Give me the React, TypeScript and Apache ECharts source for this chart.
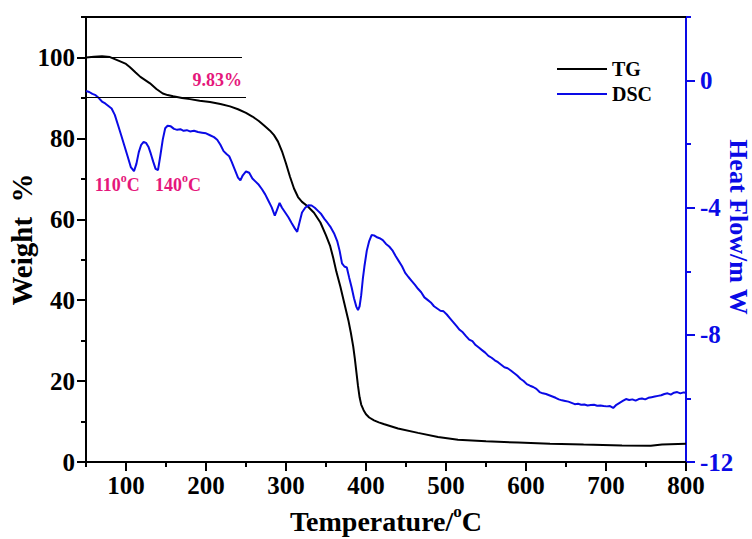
import React, { useEffect, useRef } from "react";
import * as echarts from "echarts";

// TG curve: temperature (°C) and residual weight (%)
const tgTemp = [
  50, 60, 70, 80, 92, 100, 105, 112, 118, 124, 130, 138, 146, 152, 159, 170, 180, 192,
  205, 218, 230, 240, 250, 258, 266, 273, 280, 285, 290, 295, 300, 305, 310, 315, 320,
  327, 335, 343, 350, 355, 359, 363, 368, 372, 378, 381, 384, 386, 388, 390, 392, 394,
  397, 400, 404, 410, 416, 422, 440, 465, 490, 515, 550, 590, 630, 672, 720, 756, 770,
  800,
];
const tgWeight = [
  100.0, 100.2, 100.3, 100.1, 99.1, 98.4, 97.6, 96.3, 95.2, 94.4, 93.6, 92.2, 91.1,
  90.7, 90.4, 90.0, 89.7, 89.3, 89.0, 88.5, 87.9, 87.2, 86.3, 85.4, 84.3, 83.1, 81.9,
  80.8, 79.2, 76.8, 73.8, 70.5, 67.6, 65.5, 64.3, 63.2, 61.6, 59.2, 56.0, 53.5, 50.5,
  47.0, 43.3, 40.0, 35.0, 32.0, 28.6, 25.6, 22.2, 18.8, 16.0, 14.2, 12.8, 11.8, 11.0,
  10.3, 9.8, 9.4, 8.3, 7.2, 6.2, 5.5, 5.1, 4.8, 4.5, 4.3, 4.1, 4.0, 4.3, 4.5,
];

// DSC curve: temperature (°C) and heat flow (mW)
const dscTemp = [
  50, 54, 58, 62, 66, 70, 74, 78, 82, 86, 90, 94, 98, 102, 106, 110, 113, 116, 119,
  122, 125, 128, 131, 134, 137, 140, 143, 146, 149, 152, 156, 160, 164, 168, 172, 176,
  180, 185, 190, 195, 200, 205, 210, 214, 218, 222, 226, 229, 232, 236, 240, 243, 246,
  250, 254, 258, 262, 266, 270, 274, 278, 282, 286, 289, 292, 295, 299, 303, 307, 311,
  314, 317, 320, 324, 328, 332, 336, 340, 344, 348, 352, 356, 360, 364, 367, 370, 373,
  376, 379, 382, 385, 388, 390, 392, 394, 396, 398, 401, 404, 407, 410, 413, 417, 421,
  425, 429, 433, 437, 441, 445, 449, 453, 457, 461, 465, 469, 473, 477, 481, 485, 489,
  493, 497, 501, 505, 509, 513, 517, 521, 525, 529, 533, 537, 541, 545, 549, 553, 557,
  561, 565, 569, 573, 577, 581, 585, 589, 593, 597, 601, 605, 609, 613, 617, 621, 625,
  629, 633, 637, 641, 645, 649, 653, 657, 661, 665, 669, 673, 677, 681, 685, 689, 693,
  697, 701, 705, 709, 713, 717, 721, 725, 729, 733, 737, 741, 745, 749, 753, 757, 761,
  765, 769, 773, 777, 781, 785, 789, 793, 797, 800,
];
const dscHeat = [
  -0.33, -0.36, -0.42, -0.46, -0.55, -0.66, -0.72, -0.8, -0.88, -1.08, -1.4, -1.72,
  -2.05, -2.38, -2.72, -2.85, -2.62, -2.25, -2.02, -1.93, -1.96, -2.08, -2.3, -2.55,
  -2.78, -2.82, -2.35, -1.85, -1.5, -1.42, -1.44, -1.52, -1.55, -1.53, -1.58, -1.56,
  -1.6, -1.58, -1.62, -1.64, -1.66, -1.72, -1.78, -1.86, -2.02, -2.22, -2.32, -2.38,
  -2.55, -2.8, -3.05, -3.14, -2.98, -2.86, -2.9, -3.08, -3.18, -3.28, -3.42, -3.58,
  -3.78, -3.98, -4.25, -4.05, -3.85, -4.0, -4.15, -4.3, -4.48, -4.65, -4.76, -4.45,
  -4.15, -4.0, -3.92, -3.93, -4.0, -4.1, -4.2, -4.35, -4.48, -4.62, -4.8, -5.05, -5.35,
  -5.75, -5.85, -5.88, -6.2, -6.5, -6.85, -7.12, -7.22, -7.1, -6.75, -6.25, -5.85,
  -5.35, -5.05, -4.86, -4.87, -4.92, -4.96, -5.02, -5.14, -5.22, -5.34, -5.52, -5.68,
  -5.84, -6.05, -6.18, -6.3, -6.42, -6.55, -6.66, -6.82, -6.9, -6.98, -7.1, -7.17,
  -7.24, -7.26, -7.36, -7.48, -7.6, -7.72, -7.84, -7.92, -8.04, -8.15, -8.2, -8.32,
  -8.4, -8.48, -8.56, -8.66, -8.72, -8.8, -8.86, -8.94, -9.02, -9.05, -9.12, -9.2,
  -9.28, -9.38, -9.45, -9.55, -9.6, -9.64, -9.7, -9.8, -9.84, -9.86, -9.9, -9.94,
  -9.98, -10.03, -10.06, -10.08, -10.1, -10.14, -10.18, -10.17, -10.2, -10.19, -10.22,
  -10.21, -10.2, -10.23, -10.22, -10.24, -10.25, -10.24, -10.3, -10.2, -10.14, -10.08,
  -10.02, -10.05, -10.03, -10.07, -10.02, -10.0, -10.03, -9.98, -9.96, -9.94, -9.92,
  -9.9, -9.86, -9.84, -9.88, -9.82, -9.8, -9.84, -9.81, -9.82,
];

// Tick values
const tempTicks = [100, 200, 300, 400, 500, 600, 700, 800];
const weightTicks = [0, 20, 40, 60, 80, 100];
const heatTicks = [-12, -8, -4, 0];

// Mass loss of the first step (%)
const massLoss = 9.83;

const FONT = '"Liberation Serif", "Times New Roman", serif';
const BLUE = "#0a0ae6";
const PINK = "#e5177b";
const GRID = { left: 86, right: 66, top: 17, bottom: 77, outerBoundsMode: "none" };

const pair = (xs: number[], ys: number[]) => xs.map((x, i) => [x, ys[i]]);

const supRich = (size: number, color: string) => ({
  sup: {
    fontSize: size,
    fontWeight: "bold" as const,
    fontFamily: FONT,
    color,
    verticalAlign: "top" as const,
    lineHeight: size,
  },
});

export default function App() {
  const ref = useRef<HTMLDivElement>(null);

  useEffect(() => {
    if (!ref.current) return;
    const chart = echarts.init(ref.current, undefined, { renderer: "svg" });

    const tickLabel = { fontSize: 25, fontWeight: "bold" as const, fontFamily: FONT };

    chart.setOption({
      animation: false,
      backgroundColor: "#fff",
      textStyle: { fontFamily: FONT },
      grid: [{ ...GRID }, { ...GRID }],
      legend: {
        data: ["TG", "DSC"],
        orient: "vertical",
        left: 552,
        top: 54,
        icon: "rect",
        itemWidth: 50,
        itemHeight: 2,
        itemGap: 5,
        textStyle: { fontSize: 20, fontWeight: "bold", color: "#000", fontFamily: FONT, lineHeight: 20 },
      },
      // right-hand axis title, reading top to bottom
      graphic: [
        {
          type: "text",
          x: 738,
          y: 227,
          rotation: -Math.PI / 2,
          silent: true,
          style: {
            text: "Heat Flow/m W",
            fill: BLUE,
            font: `bold 26px ${FONT}`,
            align: "center",
            verticalAlign: "middle",
          },
        },
      ],
      xAxis: [
        {
          gridIndex: 0,
          type: "value",
          min: 50,
          max: 800,
          position: "bottom",
          axisLine: { show: true, onZero: false, lineStyle: { color: "#000", width: 2 } },
          axisTick: { show: true, length: 9, customValues: tempTicks, lineStyle: { color: "#000", width: 2 } },
          axisLabel: { ...tickLabel, color: "#000", margin: 11, customValues: tempTicks },
          splitLine: { show: false },
          name: "Temperature/{sup|o}C",
          nameLocation: "middle",
          nameGap: 38,
          nameTextStyle: {
            fontSize: 28,
            fontWeight: "bold",
            color: "#000",
            fontFamily: FONT,
            lineHeight: 38,
            rich: supRich(17, "#000"),
          },
        },
        {
          gridIndex: 1,
          type: "value",
          min: 50,
          max: 800,
          interval: 50,
          position: "bottom",
          axisLine: { show: false, onZero: false },
          axisTick: { show: true, length: 5, lineStyle: { color: "#000", width: 2 } },
          axisLabel: { show: false },
          splitLine: { show: false },
        },
        {
          gridIndex: 1,
          type: "value",
          min: 50,
          max: 800,
          position: "top",
          axisLine: { show: true, onZero: false, lineStyle: { color: "#000", width: 2 } },
          axisTick: { show: false },
          axisLabel: { show: false },
          splitLine: { show: false },
        },
      ],
      yAxis: [
        {
          gridIndex: 0,
          type: "value",
          min: 0,
          max: 110,
          position: "left",
          axisLine: { show: true, onZero: false, lineStyle: { color: "#000", width: 2 } },
          axisTick: { show: true, length: 9, customValues: weightTicks, lineStyle: { color: "#000", width: 2 } },
          axisLabel: { ...tickLabel, color: "#000", margin: 11, customValues: weightTicks },
          splitLine: { show: false },
          name: "Weight  %",
          nameLocation: "middle",
          nameRotate: 90,
          nameGap: 50,
          nameMoveOverlap: false,
          nameTextStyle: { fontSize: 29, fontWeight: "bold", color: "#000", fontFamily: FONT },
        },
        {
          gridIndex: 0,
          type: "value",
          min: -12,
          max: 2,
          position: "right",
          axisLine: { show: true, onZero: false, lineStyle: { color: BLUE, width: 2 } },
          axisTick: { show: true, length: 9, customValues: heatTicks, lineStyle: { color: BLUE, width: 2 } },
          axisLabel: { ...tickLabel, color: BLUE, margin: 14, customValues: heatTicks },
          splitLine: { show: false },
        },
        {
          gridIndex: 1,
          type: "value",
          min: 0,
          max: 110,
          interval: 10,
          position: "left",
          axisLine: { show: false, onZero: false },
          axisTick: { show: true, length: 5, lineStyle: { color: "#000", width: 2 } },
          axisLabel: { show: false },
          splitLine: { show: false },
        },
        {
          gridIndex: 1,
          type: "value",
          min: -12,
          max: 2,
          interval: 2,
          position: "right",
          axisLine: { show: false, onZero: false },
          axisTick: { show: true, length: 5, lineStyle: { color: BLUE, width: 2 } },
          axisLabel: { show: false },
          splitLine: { show: false },
        },
      ],
      series: [
        {
          name: "TG",
          type: "line",
          xAxisIndex: 0,
          yAxisIndex: 0,
          data: pair(tgTemp, tgWeight),
          symbol: "none",
          lineStyle: { color: "#000", width: 2 },
          itemStyle: { color: "#000" },
          markLine: {
            silent: true,
            symbol: "none",
            label: { show: false },
            lineStyle: { color: "#000", width: 1.2, type: "solid" },
            data: [
              [{ coord: [50, 100] }, { coord: [245, 100] }],
              [{ coord: [50, 100 - massLoss] }, { coord: [250, 100 - massLoss] }],
            ],
          },
          markPoint: {
            silent: true,
            symbol: "circle",
            symbolSize: 0,
            label: {
              show: true,
              position: "inside",
              color: PINK,
              fontSize: 18,
              fontWeight: "bold",
              fontFamily: FONT,
              lineHeight: 26,
              rich: supRich(12, PINK),
            },
            data: [
              { coord: [214, 94.5], value: massLoss, label: { formatter: `${massLoss}%` } },
              { coord: [89, 68.5], value: 110, label: { formatter: "110{sup|o}C" } },
              { coord: [165, 68.5], value: 140, label: { formatter: "140{sup|o}C" } },
            ],
          },
        },
        {
          name: "DSC",
          type: "line",
          xAxisIndex: 0,
          yAxisIndex: 1,
          data: pair(dscTemp, dscHeat),
          symbol: "none",
          lineStyle: { color: BLUE, width: 2 },
          itemStyle: { color: BLUE },
        },
      ],
    });

    return () => chart.dispose();
  }, []);

  return (
    <div
      ref={ref}
      style={{ position: "fixed", left: 0, top: 0, width: 752, height: 539, background: "#fff" }}
    />
  );
}
